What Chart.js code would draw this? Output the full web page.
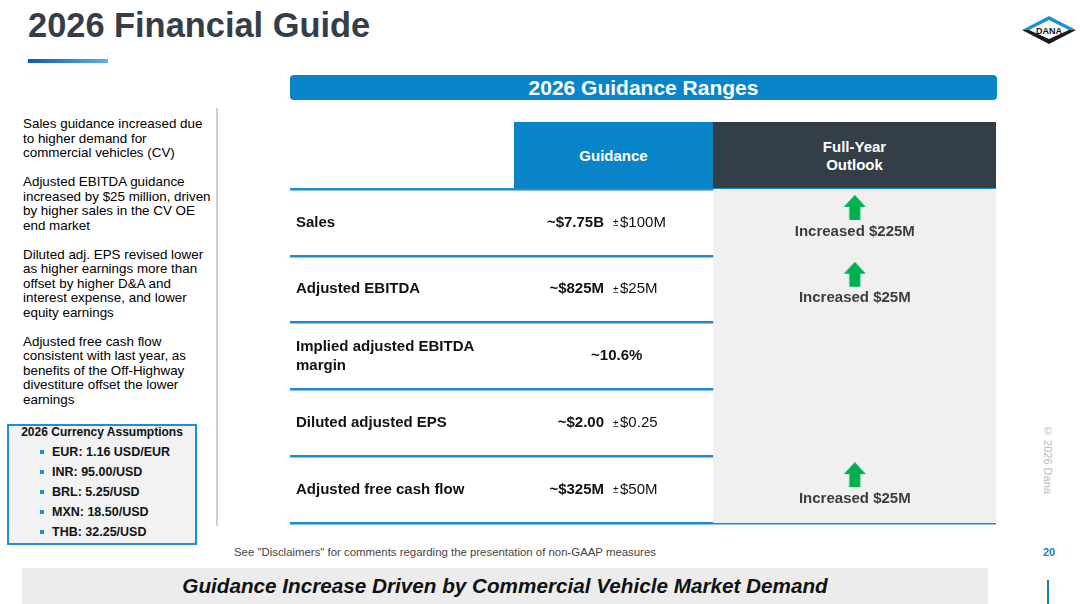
<!DOCTYPE html>
<html>
<head>
<meta charset="utf-8">
<script src="https://cdn.jsdelivr.net/npm/chart.js@4.4.1/dist/chart.umd.min.js"></script>
<style>
  body { margin: 0; width: 1080px; height: 604px; overflow: hidden; background: #fff;
         font-family: Arial, "Liberation Sans", sans-serif; position: relative; }
  .abs { position: absolute; }
  #title { left: 28px; top: 8px; font-size: 34.4px; line-height: 34px; font-weight: bold; color: #333e48; }
  #underline { left: 28px; top: 59px; width: 80px; height: 4px; background: linear-gradient(90deg, #0a5cb5, #5db0ea); }
  #banner { left: 290px; top: 75px; width: 707px; height: 25px; background: #0a84c8; border-radius: 4px;
            color: #fff; font-weight: bold; font-size: 21px; line-height: 26px; text-align: center; }
  #side { left: 23px; top: 117px; width: 190px; font-size: 13.4px; line-height: 14.5px; color: #000; }
  #side p { margin: 0 0 14.5px 0; }
  #divider { left: 216px; top: 108px; width: 2px; height: 418px; background: #cfcfcf; }
  #fx { left: 7px; top: 424px; width: 186px; height: 117px; border: 2px solid #1a8fd8; background: #f2f2f2; }
  #fx .hd { text-align: center; font-weight: bold; font-size: 12px; line-height: 13px; margin-top: 0; color: #111; }
  #fx ul { list-style: none; margin: 3px 0 0 0; padding: 0 0 0 31px; }
  #fx li { font-weight: bold; font-size: 12.5px; line-height: 20px; color: #111; position: relative; padding-left: 12px; }
  #fx li::before { content: ''; position: absolute; left: 0; top: 8px; width: 4px; height: 4px; background: #1a8fd8; }
  .hdr { top: 122px; height: 67px; color: #fff; font-weight: bold; font-size: 15px; line-height: 18px;
         display: flex; align-items: center; justify-content: center; text-align: center; }
  #hGuid { left: 514px; width: 199px; background: #0a84c8; }
  #hOut { left: 713px; width: 283px; background: #343e47; }
  #tbl { left: 290px; top: 186px; width: 706px; height: 340px; }
  #disc { left: 234px; top: 545px; font-size: 11.4px; line-height: 14px; color: #444; }
  #page { left: 1043px; top: 545px; font-size: 11px; line-height: 14px; color: #1a7fc1; font-weight: bold; }
  #copy { left: 1041px; top: 425px; font-size: 11px; color: #bbb; writing-mode: vertical-rl; line-height: 14px; }
  #bottom { left: 22px; top: 568px; width: 966px; height: 36px; background: #ececec;
            font-size: 20.7px; font-weight: bold; font-style: italic; line-height: 36px; text-align: center; color: #111; }
  #bline { left: 1047px; top: 580px; width: 2px; height: 24px; background: #1a7fc1; }
  #logo { left: 1020px; top: 14px; }
</style>
</head>
<body>
<div id="title" class="abs">2026 Financial Guide</div>
<div id="underline" class="abs"></div>
<svg id="logo" class="abs" width="58" height="32" viewBox="0 0 58 32">
  <polygon points="2,16 29,2 56,16" fill="#1a8fd8"/>
  <polygon points="2,16 29,30 56,16" fill="#1b1b1b"/>
  <polygon points="9,16 29,6 49,16 29,25" fill="#fff"/>
  <text x="29" y="19.5" font-family="Arial" font-weight="bold" font-size="9" text-anchor="middle" fill="#111">DANA</text>
</svg>
<div id="banner" class="abs">2026 Guidance Ranges</div>

<div id="side" class="abs">
  <p>Sales guidance increased due<br>to higher demand for<br>commercial vehicles (CV)</p>
  <p>Adjusted EBITDA guidance<br>increased by $25 million, driven<br>by higher sales in the CV OE<br>end market</p>
  <p>Diluted adj. EPS revised lower<br>as higher earnings more than<br>offset by higher D&amp;A and<br>interest expense, and lower<br>equity earnings</p>
  <p>Adjusted free cash flow<br>consistent with last year, as<br>benefits of the Off-Highway<br>divestiture offset the lower<br>earnings</p>
</div>
<div id="divider" class="abs"></div>
<div id="fx" class="abs"><div class="hd">2026 Currency Assumptions</div><ul id="fxList"></ul></div>

<div id="hGuid" class="abs hdr">Guidance</div>
<div id="hOut" class="abs hdr">Full-Year<br>Outlook</div>
<div id="tbl" class="abs"><canvas id="guideChart"></canvas></div>

<div id="disc" class="abs">See "Disclaimers" for comments regarding the presentation of non-GAAP measures</div>
<div id="page" class="abs">20</div>
<div id="copy" class="abs">© 2026 Dana</div>
<div id="bottom" class="abs">Guidance Increase Driven by Commercial Vehicle Market Demand</div>
<div id="bline" class="abs"></div>

<script>
// table rows and values
const rows = ['Sales', 'Adjusted EBITDA', ['Implied adjusted EBITDA', 'margin'], 'Diluted adjusted EPS', 'Adjusted free cash flow'];
const guidance = ['~$7.75B', '~$825M', '~10.6%', '~$2.00', '~$325M'];
const ranges = ['$100M', '$25M', null, '$0.25', '$50M'];
const increases = ['$225M', '$25M', null, null, '$25M'];

const currencies = ['EUR: 1.16 USD/EUR', 'INR: 95.00/USD', 'BRL: 5.25/USD', 'MXN: 18.50/USD', 'THB: 32.25/USD'];

// column edges as share of table width
const guideLeft = 0.317, outlookLeft = 0.6;

document.getElementById('fxList').innerHTML = currencies.map(c => '<li>' + c + '</li>').join('');

const FONT = 'Arial, "Liberation Sans", sans-serif';

function arrowImage() {
  const c = document.createElement('canvas');
  c.width = 24; c.height = 55;
  const g = c.getContext('2d');
  g.fillStyle = '#00b050';
  g.beginPath();
  g.moveTo(12, 0); g.lineTo(23, 12); g.lineTo(17.5, 12); g.lineTo(17.5, 25);
  g.lineTo(6.5, 25); g.lineTo(6.5, 12); g.lineTo(1, 12); g.closePath();
  g.fill();
  return c;
}

const cellText = {
  id: 'cellText',
  afterDatasetsDraw(chart) {
    const { ctx, scales: { x, y } } = chart;
    const valRight = x.getPixelForValue(0.4448);
    const guideMid = x.getPixelForValue((guideLeft + outlookLeft) / 2) + 3;
    const outMid = x.getPixelForValue((outlookLeft + 1) / 2);
    ctx.save();
    ctx.textBaseline = 'middle';
    guidance.forEach((g, i) => {
      const cy = y.getPixelForValue(i);
      ctx.fillStyle = '#111';
      ctx.font = 'bold 15px ' + FONT;
      if (ranges[i]) {
        ctx.textAlign = 'right';
        ctx.fillText(g, valRight, cy);
        ctx.textAlign = 'left';
        ctx.font = '10px ' + FONT;
        ctx.fillText('±', valRight + 9, cy + 1);
        ctx.font = '15px ' + FONT;
        ctx.fillText(ranges[i], valRight + 16, cy);
      } else {
        ctx.textAlign = 'center';
        ctx.fillText(g, guideMid, cy);
      }
      if (increases[i]) {
        ctx.textAlign = 'center';
        ctx.fillStyle = '#3c3c3c';
        ctx.font = 'bold 15px ' + FONT;
        ctx.fillText('Increased ' + increases[i], outMid, cy + 9);
      }
    });
    ctx.restore();
  }
};

const arrow = arrowImage();

new Chart(document.getElementById('guideChart'), {
  type: 'bar',
  data: {
    labels: rows,
    datasets: [
      {
        type: 'scatter',
        label: 'increase',
        order: 1,
        // one point per row, empty where the outlook did not change
        data: increases.map((v, i) => ({ x: v ? (outlookLeft + 1) / 2 : null, y: i })),
        pointStyle: arrow,
        pointRadius: 0.5,
        pointBorderWidth: 0,
        pointHoverRadius: 0.5,
        clip: false
      },
      {
        label: 'outlook column',
        order: 2,
        data: rows.map(() => [outlookLeft, 1]),
        backgroundColor: '#f0f0f0',
        barPercentage: 1,
        categoryPercentage: 1,
        borderWidth: 0
      }
    ]
  },
  options: {
    indexAxis: 'y',
    responsive: true,
    maintainAspectRatio: false,
    animation: false,
    layout: { autoPadding: false, padding: { top: 3, bottom: 3, left: 0, right: 0 } },
    plugins: { legend: { display: false }, tooltip: { enabled: false } },
    scales: {
      x: { type: 'linear', min: 0, max: 1, display: false },
      y: {
        type: 'category',
        offset: true,
        z: 1,
        border: { display: false },
        grid: { offset: true, color: '#1e88d0', lineWidth: 2.5, drawTicks: false },
        ticks: {
          mirror: true,
          padding: 6,
          color: '#111',
          font: { family: FONT, size: 15, weight: 'bold', lineHeight: 1.25 }
        },
        // labels sit inside the table, so the axis takes no room of its own
        afterFit(scale) {
          scale.width = 0;
          scale.paddingTop = 0;
          scale.paddingBottom = 0;
        }
      }
    }
  },
  plugins: [cellText]
});
</script>
</body>
</html>
